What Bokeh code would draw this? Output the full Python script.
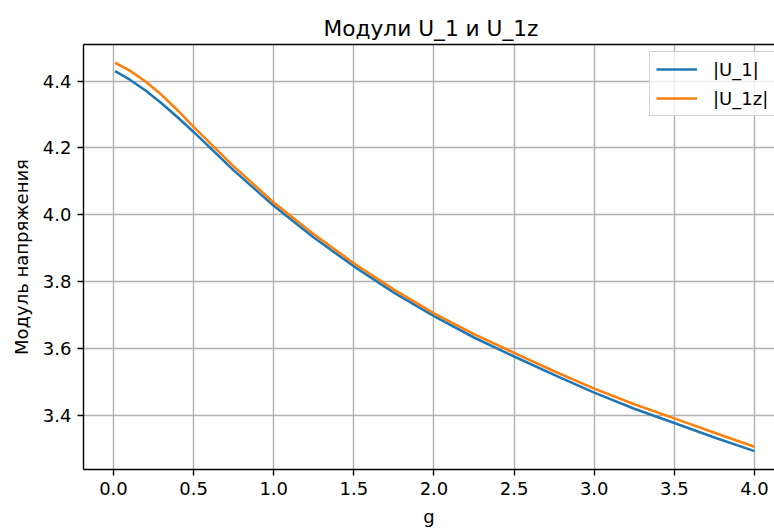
from bokeh.plotting import figure
from bokeh.models import Range1d, FixedTicker, NumeralTickFormatter, LinearAxis, Legend, LegendItem, Title
from bokeh.embed import file_html
from bokeh.resources import INLINE

# data
g = [0.01, 0.1, 0.2, 0.3, 0.4, 0.5, 0.75, 1.0, 1.25, 1.5, 1.75, 2.0, 2.25, 2.5, 2.75, 3.0, 3.25, 3.5, 3.75, 4.0]
u1 = [4.430, 4.405, 4.372, 4.334, 4.292, 4.248, 4.133, 4.027, 3.932, 3.846, 3.767, 3.697, 3.633, 3.576,
      3.521, 3.468, 3.420, 3.377, 3.334, 3.293]
u1z = [4.455, 4.432, 4.399, 4.359, 4.313, 4.263, 4.145, 4.037, 3.942, 3.855, 3.776, 3.705, 3.643, 3.587,
       3.532, 3.480, 3.433, 3.391, 3.348, 3.306]
x_ticks = [0.0, 0.5, 1.0, 1.5, 2.0, 2.5, 3.0, 3.5, 4.0]
y_ticks = [3.4, 3.6, 3.8, 4.0, 4.2, 4.4]
title_text = "Модули U_1 и U_1z"
x_label = "g"
y_label = "Модуль напряжения"
labels = ["|U_1|", "|U_1z|"]

FONT = "DejaVu Sans"
FS = "18px"

p = figure(width=774, height=529, output_backend="svg", toolbar_location=None,
           x_range=Range1d(-0.187, 4.125), y_range=Range1d(3.238, 4.5096),
           min_border_left=83, min_border_right=0, min_border_top=44, min_border_bottom=59)
p.title = Title(text=title_text, align="left", offset=240, text_font=FONT,
                text_font_size="21.7px", text_font_style="normal", text_color="black", standoff=8)
p.outline_line_color = None
p.background_fill_color = "white"
p.border_fill_color = "white"

for ax, ticks in ((p.xaxis[0], x_ticks), (p.yaxis[0], y_ticks)):
    ax.ticker = FixedTicker(ticks=ticks)
    ax.formatter = NumeralTickFormatter(format="0.0")
    ax.minor_tick_line_color = None
    ax.major_tick_out = 6
    ax.major_tick_in = 0
    ax.major_tick_line_width = 1.4
    ax.axis_line_width = 1.4
    ax.axis_line_color = "black"
    ax.major_tick_line_color = "black"
    ax.major_label_text_font = FONT
    ax.major_label_text_font_size = FS
    ax.major_label_text_color = "black"
    ax.major_label_standoff = 6
    ax.axis_label_text_font = FONT
    ax.axis_label_text_font_size = FS
    ax.axis_label_text_font_style = "normal"
    ax.axis_label_text_color = "black"
    ax.axis_label_standoff = 8

p.xaxis.axis_label = x_label
p.yaxis.axis_label = y_label

top = LinearAxis(ticker=FixedTicker(ticks=[]), major_label_text_font_size="0px",
                 axis_line_width=1.4, axis_line_color="black", minor_tick_line_color=None,
                 major_tick_line_color=None)
p.add_layout(top, "above")

p.xgrid.ticker = FixedTicker(ticks=x_ticks)
p.ygrid.ticker = FixedTicker(ticks=y_ticks)
p.grid.grid_line_color = "#b0b0b0"
p.grid.grid_line_width = 1.4

r1 = p.line(g, u1, line_color="#1f77b4", line_width=2.6, line_join="round")
r2 = p.line(g, u1z, line_color="#ff7f0e", line_width=2.6, line_join="round")

legend = Legend(items=[LegendItem(label=labels[0], renderers=[r1]),
                       LegendItem(label=labels[1], renderers=[r2])],
                location=(566, 353), padding=6, spacing=7,
                glyph_width=41, glyph_height=22, label_standoff=16, label_width=44, label_height=22,
                label_text_font=FONT, label_text_font_size=FS, label_text_color="black",
                border_line_color="#cccccc", border_line_alpha=0.9, border_line_width=1.4,
                background_fill_color="white", background_fill_alpha=0.8)
p.add_layout(legend, "center")

open("out.html", "w").write(file_html(p, INLINE))
